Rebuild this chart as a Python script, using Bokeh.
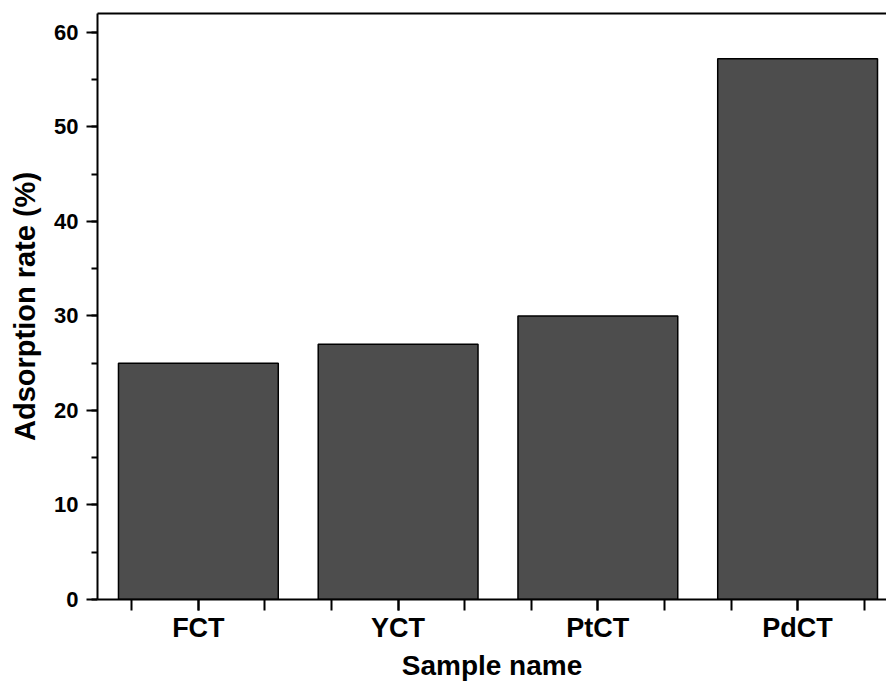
from bokeh.plotting import figure
from bokeh.models import Range1d, SingleIntervalTicker, LinearAxis, FixedTicker, ColumnDataSource
from bokeh.embed import file_html
from bokeh.resources import INLINE

# Data
categories = ["FCT", "YCT", "PtCT", "PdCT"]
adsorption_rate = [25.0, 27.0, 30.0, 57.2]

positions = list(range(1, len(categories) + 1))
source = ColumnDataSource(dict(x=positions, top=adsorption_rate, name=categories))

FONT = "Liberation Sans"

p = figure(width=886, height=683, output_backend="svg", toolbar_location=None,
           x_range=Range1d(0.495, 4.445), y_range=Range1d(0, 62),
           min_border_left=97, min_border_right=0, min_border_top=13, min_border_bottom=84)
p.outline_line_color = None
p.grid.visible = False
p.background_fill_color = "white"
p.border_fill_color = "white"

p.vbar(x="x", top="top", width=0.8, bottom=0, source=source,
       fill_color="#4d4d4d", line_color="black", line_width=1.5)

# x axis
xa = p.xaxis[0]
xa.ticker = SingleIntervalTicker(interval=1, num_minor_ticks=3)
xa.major_label_overrides = {pos: c for pos, c in zip(positions, categories)}
xa.axis_label = "Sample name"
# y axis
ya = p.yaxis[0]
ya.ticker = SingleIntervalTicker(interval=10, num_minor_ticks=2)
ya.axis_label = "Adsorption rate (%)"

for ax in (xa, ya):
    ax.axis_line_width = 2
    ax.axis_line_color = "black"
    ax.major_tick_line_width = 2
    ax.minor_tick_line_width = 2
    ax.major_tick_in = 0
    ax.minor_tick_in = 0
    ax.major_label_text_font = FONT
    ax.major_label_text_font_style = "bold"
    ax.major_label_text_color = "black"
    ax.axis_label_text_font = FONT
    ax.axis_label_text_font_style = "bold"
    ax.axis_label_text_color = "black"

xa.major_tick_out = 11
xa.minor_tick_out = 11
xa.major_label_text_font_size = "27px"
xa.major_label_standoff = 2
xa.axis_label_text_font_size = "28px"
xa.axis_label_standoff = 4

ya.major_tick_out = 11
ya.minor_tick_out = 6
ya.major_label_text_font_size = "22px"
ya.major_label_standoff = 8
ya.axis_label_text_font_size = "29px"
ya.axis_label_standoff = 10

# top spine
top = LinearAxis(ticker=FixedTicker(ticks=[]), axis_line_width=2, axis_line_color="black",
                 major_tick_out=0, minor_tick_out=0, major_label_text_font_size="0px")
p.add_layout(top, "above")

open("out.html", "w").write(file_html(p, INLINE))
